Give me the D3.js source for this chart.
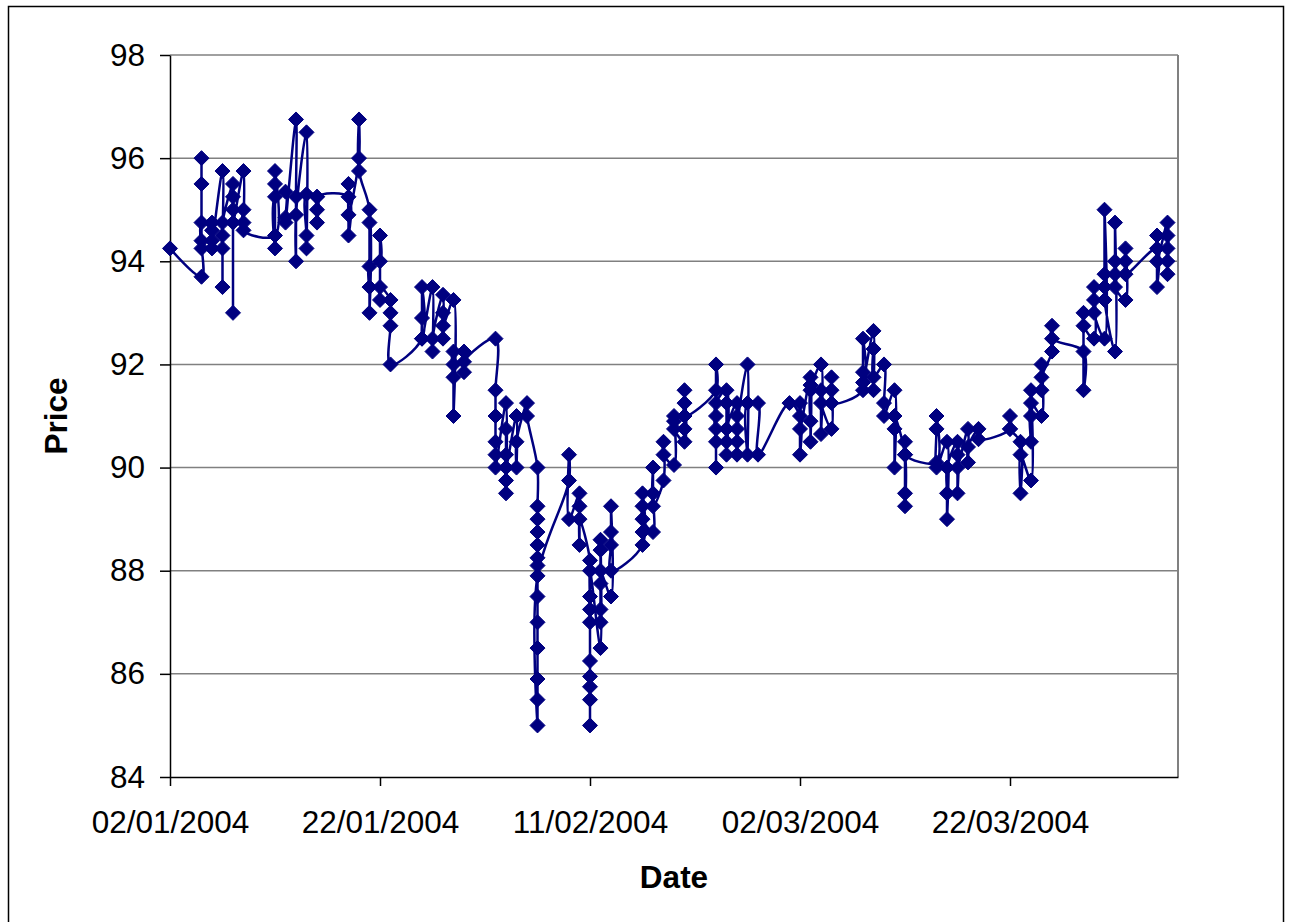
<!DOCTYPE html>
<html>
<head>
<meta charset="utf-8">
<style>
  body { margin: 0; background: #fff; }
  svg { display: block; font-family: 'Liberation Sans', Arial, sans-serif; }
</style>
</head>
<body>
<script src="https://cdn.jsdelivr.net/npm/d3@7"></script>
<script>
'use strict'

// trading days and the prices quoted on each one (in quote order)
var tradeDates = [
  '02/01/2004', '05/01/2004', '06/01/2004', '07/01/2004', '08/01/2004', '09/01/2004',
  '12/01/2004', '13/01/2004', '14/01/2004', '15/01/2004', '16/01/2004',
  '19/01/2004', '20/01/2004', '21/01/2004', '22/01/2004', '23/01/2004',
  '26/01/2004', '27/01/2004', '28/01/2004', '29/01/2004', '30/01/2004',
  '02/02/2004', '03/02/2004', '04/02/2004', '05/02/2004', '06/02/2004',
  '09/02/2004', '10/02/2004', '11/02/2004', '12/02/2004', '13/02/2004',
  '16/02/2004', '17/02/2004', '18/02/2004', '19/02/2004', '20/02/2004',
  '23/02/2004', '24/02/2004', '25/02/2004', '26/02/2004', '27/02/2004',
  '01/03/2004', '02/03/2004', '03/03/2004', '04/03/2004', '05/03/2004',
  '08/03/2004', '09/03/2004', '10/03/2004', '11/03/2004', '12/03/2004',
  '15/03/2004', '16/03/2004', '17/03/2004', '18/03/2004', '19/03/2004',
  '22/03/2004', '23/03/2004', '24/03/2004', '25/03/2004', '26/03/2004',
  '29/03/2004', '30/03/2004', '31/03/2004', '01/04/2004', '02/04/2004',
  '05/04/2004', '06/04/2004'
]

var tradePrices = [
  [94.25],
  [93.7, 94.4, 96.0, 95.5, 94.25, 94.75],
  [94.6, 94.25, 94.75, 94.4],
  [95.75, 94.25, 93.5, 94.5, 94.75],
  [95.5, 95.25, 93.0, 95.0, 94.75],
  [95.75, 94.75, 95.0, 94.6],
  [94.5, 95.75, 95.5, 94.25, 95.25],
  [95.35, 94.85, 94.75],
  [96.75, 95.25, 94.0, 94.9],
  [96.5, 94.25, 94.5, 95.3],
  [95.25, 94.75, 95.0, 95.25],
  [95.25, 94.5, 95.5, 94.9],
  [96.0, 96.75, 95.75],
  [95.0, 93.0, 94.75, 93.5, 93.9],
  [94.0, 94.5, 93.25, 93.5],
  [93.25, 93.0, 92.75, 92.0],
  [92.5, 93.5, 92.9, 92.5],
  [93.5, 92.25, 92.5],
  [93.35, 92.5, 93.0, 92.75],
  [93.25, 91.0, 92.0, 91.75, 92.25],
  [92.25, 91.85, 92.05],
  [92.5, 91.5, 91.0, 90.5, 90.25, 90.0],
  [91.25, 89.5, 90.75, 89.75, 90.25, 90.0],
  [91.0, 90.0, 90.5],
  [91.25, 91.0],
  [90.0, 89.25, 89.0, 88.75, 88.5, 88.25, 88.1, 87.5, 87.0, 86.5, 85.9, 85.5, 85.0, 87.9],
  [89.75, 90.25, 89.0],
  [89.5, 89.25, 88.5, 89.0],
  [88.2, 87.5, 85.0, 85.5, 86.25, 85.75, 85.95, 87.0, 87.25, 88.0],
  [86.5, 88.6, 87.0, 88.4, 87.25, 87.75, 88.0],
  [87.5, 89.25, 88.75, 88.5, 88.0],
  [88.5, 89.5, 88.75, 89.25, 89.0],
  [88.75, 89.5, 90.0, 89.25],
  [89.75, 90.5, 90.25],
  [90.05, 91.0, 90.9, 90.75],
  [90.5, 91.5, 90.75, 91.25, 91.0],
  [91.5, 92.0, 90.0, 91.0, 90.75, 90.5, 91.25],
  [91.5, 90.25, 91.25, 90.5, 90.75],
  [91.25, 90.25, 91.0, 90.5, 90.75],
  [92.0, 90.25, 91.25],
  [91.25, 90.25],
  [91.25],
  [91.0, 90.25, 91.25, 90.75],
  [91.75, 90.5, 91.6, 90.9, 91.5],
  [92.0, 90.65, 91.5, 91.25],
  [90.75, 91.75, 91.5, 91.25],
  [91.5, 92.5, 91.85, 91.65],
  [92.65, 91.5, 92.3, 91.75],
  [92.0, 91.25, 91.0],
  [91.5, 90.0, 90.75, 91.0],
  [90.25, 89.25, 89.5, 90.5, 90.25],
  [90.1, 91.0, 90.75, 90.0],
  [90.5, 89.0, 89.5, 90.0],
  [90.5, 89.5, 90.25, 90.0],
  [90.75, 90.1, 90.4],
  [90.75, 90.55],
  [90.75, 91.0, 90.75],
  [90.5, 89.5, 90.25],
  [89.75, 91.5, 91.0, 90.5, 91.25],
  [91.0, 92.0, 91.5, 91.75],
  [92.25, 92.75, 92.5],
  [92.25, 91.5, 93.0, 92.75],
  [92.5, 93.5, 93.25, 93.0],
  [92.5, 95.0, 93.75, 93.5, 93.25],
  [92.25, 94.75, 94.0, 93.75, 93.5],
  [93.25, 94.25, 94.0, 93.75],
  [94.25, 93.5, 94.5, 94.0],
  [94.75, 93.75, 94.5, 94.25, 94.0]
]

var xTickLabels = ['02/01/2004', '22/01/2004', '11/02/2004', '02/03/2004', '22/03/2004']
var xDomain = ['02/01/2004', '07/04/2004']
var yTicks = [84, 86, 88, 90, 92, 94, 96, 98]
var yDomain = [84, 98]

var opts = {
  width: 1290,
  height: 922,
  left: 170,
  right: 1178,
  top: 55,
  bottom: 777,
  fontSize: 31.5,
  navy: '#000080'
}

var parseDate = d3.utcParse('%d/%m/%Y')
var formatDate = d3.utcFormat('%d/%m/%Y')

var points = []
tradeDates.forEach(function (day, i) {
  tradePrices[i].forEach(function (p) {
    points.push({ date: parseDate(day), price: p })
  })
})

var x = d3.scaleUtc()
  .domain(xDomain.map(parseDate))
  .range([opts.left, opts.right])

var y = d3.scaleLinear()
  .domain(yDomain)
  .range([opts.bottom, opts.top])

var svg = d3.select('body').append('svg')
  .attr('width', opts.width)
  .attr('height', opts.height)

// chart frame
svg.append('rect')
  .attr('x', 8.5)
  .attr('y', 6.5)
  .attr('width', 1275)
  .attr('height', 940)
  .attr('fill', '#fff')
  .attr('stroke', '#000')
  .attr('stroke-width', 1.5)

// gridlines + right edge of plot area
svg.append('g').selectAll('line')
  .data(yTicks.filter(function (t) { return t > yDomain[0] }))
  .enter().append('line')
  .attr('x1', opts.left)
  .attr('x2', opts.right)
  .attr('y1', function (d) { return y(d) })
  .attr('y2', function (d) { return y(d) })
  .attr('stroke', '#808080')
  .attr('stroke-width', 1.5)

svg.append('line')
  .attr('x1', opts.right)
  .attr('x2', opts.right)
  .attr('y1', opts.top)
  .attr('y2', opts.bottom)
  .attr('stroke', '#808080')
  .attr('stroke-width', 2)

var xAxis = svg.append('g')
  .attr('transform', 'translate(0,' + opts.bottom + ')')
  .call(d3.axisBottom(x)
    .tickValues(xTickLabels.map(parseDate))
    .tickFormat(formatDate)
    .tickSize(9)
    .tickSizeOuter(0)
    .tickPadding(25))

var yAxis = svg.append('g')
  .attr('transform', 'translate(' + opts.left + ',0)')
  .call(d3.axisLeft(y)
    .tickValues(yTicks)
    .tickSize(10)
    .tickSizeOuter(0)
    .tickPadding(15))

;[xAxis, yAxis].forEach(function (g) {
  g.attr('font-family', null).attr('font-size', opts.fontSize)
  g.selectAll('text').attr('fill', '#000')
  g.selectAll('line').attr('stroke', '#000').attr('stroke-width', 1.5)
  g.select('.domain').attr('stroke', '#000').attr('stroke-width', 1.5)
})

// axis titles
svg.append('text')
  .attr('transform', 'translate(67,' + (opts.top + opts.bottom) / 2 + ') rotate(-90)')
  .attr('text-anchor', 'middle')
  .attr('font-weight', 'bold')
  .attr('font-size', opts.fontSize)
  .text('Price')

svg.append('text')
  .attr('x', (opts.left + opts.right) / 2)
  .attr('y', 888)
  .attr('text-anchor', 'middle')
  .attr('font-weight', 'bold')
  .attr('font-size', opts.fontSize)
  .text('Date')

// smoothed price line
var line = d3.line()
  .x(function (d) { return x(d.date) })
  .y(function (d) { return y(d.price) })
  .curve(d3.curveCatmullRom.alpha(0.5))

svg.append('path')
  .datum(points)
  .attr('d', line)
  .attr('fill', 'none')
  .attr('stroke', opts.navy)
  .attr('stroke-width', 2.5)

// diamond markers
svg.append('g').selectAll('path')
  .data(points)
  .enter().append('path')
  .attr('d', 'M0,-7.5L7.5,0L0,7.5L-7.5,0Z')
  .attr('transform', function (d) { return 'translate(' + x(d.date) + ',' + y(d.price) + ')' })
  .attr('fill', opts.navy)
  .attr('stroke', opts.navy)
  .attr('stroke-width', 1)
</script>
</body>
</html>
